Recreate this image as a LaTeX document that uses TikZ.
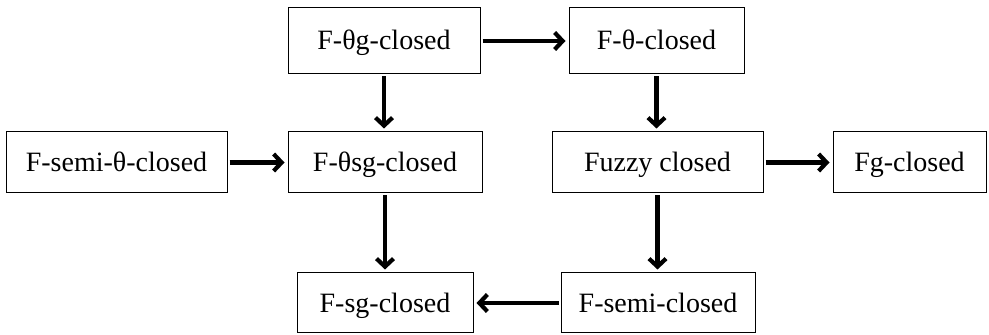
\documentclass[tikz,border=0pt]{standalone}
\usepackage{fontspec}
\setmainfont{Liberation Serif}
\usetikzlibrary{arrows.meta}
\begin{document}
\begin{tikzpicture}[x=1pt,y=1pt,
  box/.style={draw,line width=1pt,rectangle,inner sep=0pt,text height=20pt,text depth=2pt,
    font=\fontsize{28}{32}\selectfont},
  arr/.style={line width=4.2pt,-{Straight Barb[length=8pt,width=17pt]},shorten <=2pt,shorten >=3pt}]
\useasboundingbox (0,0) rectangle (989,335);
% first row
\node[box,minimum width=192pt,minimum height=66pt] (tg) at (384,294) {F-θg-closed};
\node[box,minimum width=175pt,minimum height=66pt] (t) at (656.5,294) {F-θ-closed};
% second row
\node[box,minimum width=221pt,minimum height=61pt] (smt) at (116.5,172.5) {F-semi-θ-closed};
\node[box,minimum width=194pt,minimum height=61pt] (tsg) at (385,172.5) {F-θsg-closed};
\node[box,minimum width=211pt,minimum height=61pt] (fz) at (657.5,172.5) {Fuzzy closed};
\node[box,minimum width=153pt,minimum height=61pt] (fg) at (909.5,172.5) {Fg-closed};
% third row
\node[box,minimum width=176pt,minimum height=60pt] (sg) at (385,32) {F-sg-closed};
\node[box,minimum width=194pt,minimum height=60pt] (sm) at (658,32) {F-semi-closed};
% implications
\draw[arr] (tg.east) -- (t.west);
\draw[arr] (tg.south) -- (tg.south |- tsg.north);
\draw[arr] (t.south) -- (t.south |- fz.north);
\draw[arr] (smt.east) -- (tsg.west);
\draw[arr] (fz.east) -- (fg.west);
\draw[arr] (tsg.south) -- (tsg.south |- sg.north);
\draw[arr] (fz.south) -- (fz.south |- sm.north);
\draw[arr] (sm.west) -- (sg.east);
\end{tikzpicture}
\end{document}
